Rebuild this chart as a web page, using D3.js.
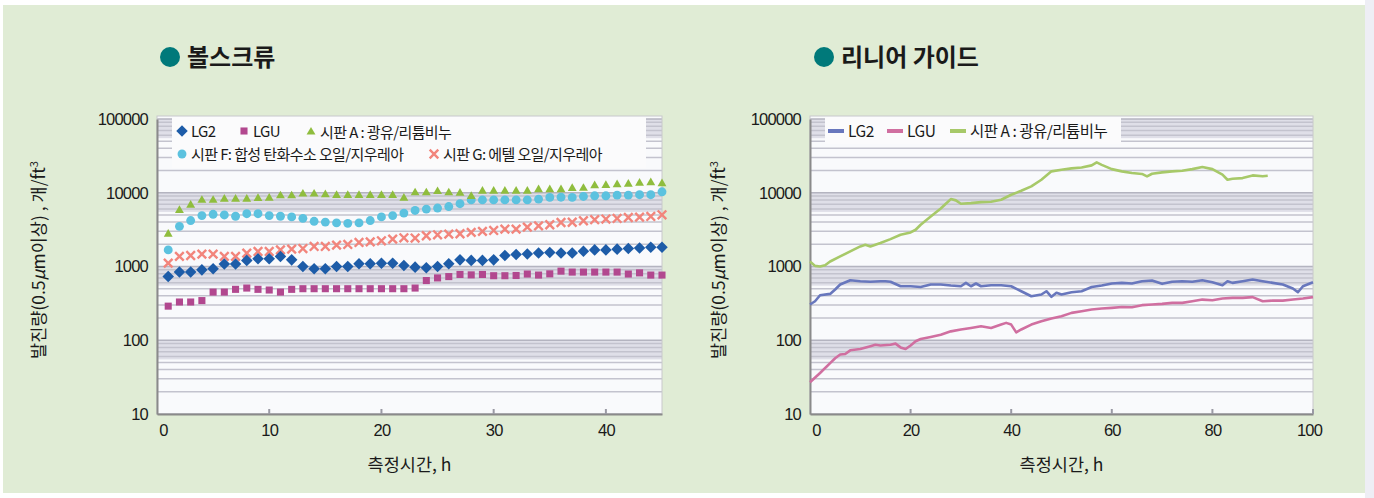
<!DOCTYPE html>
<html>
<head>
<meta charset="utf-8">
<script src="https://cdn.jsdelivr.net/npm/d3@7"></script>
<style>
  html, body { margin: 0; padding: 0; background: #ffffff; }
  svg { display: block; }
  text { font-family: "Liberation Sans", Arial, sans-serif; fill: #1a1a1a; }
  .kr { font-family: "Noto Sans CJK KR", "Noto Sans", sans-serif; }
</style>
</head>
<body>
<svg id="chart" width="1374" height="498"></svg>
<script>
// ---- Ball screw (볼스크류): hourly readings, log scale ----
const screwHours = [1,2,3,4,5,6,7,8,9,10,11,12,13,14,15,16,17,18,19,20,21,22,23,24,25,26,27,28,29,30,31,32,33,34,35,36,37,38,39,40,41,42,43,44,45];
const screwLG2 = [730,840,840,900,930,1080,1080,1210,1270,1270,1370,1230,1000,930,930,1000,1000,1090,1090,1110,1110,1030,980,960,1000,1090,1230,1210,1210,1230,1410,1450,1480,1520,1550,1520,1520,1610,1680,1680,1720,1750,1780,1820,1820];
const screwLGU = [290,330,330,345,450,450,490,510,490,480,450,490,500,500,500,500,500,500,500,500,500,500,510,645,700,730,780,770,780,750,750,755,790,765,795,865,840,840,840,840,840,790,820,765,765];
const screwA = [2750,5750,6800,7900,7900,8200,8200,8200,8400,8450,9100,9100,9600,9600,9400,9200,9200,9200,9200,9200,9200,8450,10000,10000,10400,10000,9900,8900,10500,10500,10500,10500,10500,11000,11000,11000,11450,11500,12450,12600,12850,13100,13500,13700,13250];
const screwF = [1680,3500,4200,4900,5100,5000,4800,5200,5200,4900,4800,4700,4500,4100,4000,3900,3850,3900,4200,4700,4900,5300,5750,6000,6200,6500,7100,8000,8000,8000,8000,8000,8000,8200,8650,8700,8650,8900,9100,9100,9300,9300,9400,9400,10300];
const screwG = [1110,1370,1410,1470,1470,1370,1370,1520,1600,1600,1680,1720,1750,1870,1870,1950,1990,2120,2160,2230,2350,2450,2430,2610,2690,2750,2780,2900,2990,3080,3210,3210,3420,3560,3680,3950,3980,4170,4310,4400,4480,4620,4670,4770,5020];

// ---- Linear guide (리니어 가이드): continuous traces ----
const guideHoursA = [0,1,2,3,4,6,8,10,11,12,14,16,18,20,21,22,24,26,27,28,29,30,32,34,36,38,40,42,44,46,48,50,52,54,56,57,58,60,62,64,66,67,68,70,72,74,76,78,80,82,83,84,86,88,90,91];
const guideA = [1170,1020,1000,1040,1170,1370,1600,1870,1970,1870,2080,2350,2690,2900,3150,3680,4770,6120,7100,8200,7880,7100,7240,7460,7540,8040,9400,10650,12200,15000,19500,20500,21400,22000,23500,25800,23900,20900,19500,18500,18000,16700,18100,18900,19500,19900,20900,22300,20900,17600,15000,15500,15800,17200,16700,17000];
const guideHoursLG2 = [0,1,2,4,5,6,8,10,12,14,15,16,18,20,22,24,26,28,30,31,32,33,34,36,38,40,42,44,46,47,48,49,50,52,54,56,58,60,62,64,66,68,70,72,74,76,78,80,82,83,84,86,88,90,92,94,96,97,98,100];
const guideLG2 = [305,338,408,425,488,570,652,632,620,632,632,620,540,540,527,570,570,552,540,600,540,588,540,558,558,540,462,395,417,462,388,440,417,448,462,527,552,588,600,588,632,645,582,620,632,620,652,613,558,632,600,632,666,632,600,570,503,448,540,613];
const guideHoursLGU = [0,2,4,5,6,7,8,10,12,13,14,16,17,18,19,20,21,22,24,26,28,30,32,34,36,38,39,40,41,42,44,46,48,50,52,54,56,58,60,62,64,66,68,70,72,74,76,78,80,82,84,86,88,90,92,94,96,98,100];
const guideLGU = [27,36,49,57,64,65,73,76,83,87,85,87,90,80,76,85,97,104,111,119,132,140,147,155,147,163,172,163,128,140,163,181,197,212,235,248,261,269,275,283,280,299,305,311,321,321,338,356,349,368,376,376,384,338,345,345,356,368,384];

const yTicks = [10, 100, 1000, 10000, 100000];
const screwXTicks = [0, 10, 20, 30, 40];
const guideXTicks = [0, 20, 40, 60, 80, 100];

const colors = {
  lg2: "#1d5ca8", lgu: "#b2488f", a: "#8fbd3e", f: "#5cc2df", g: "#f2857c",
  lineLG2: "#6877bd", lineLGU: "#d06fa0", lineA: "#a7c969"
};

const svg = d3.select("#chart");

// page background: pale green card with a light strip at the right edge
svg.append("rect").attr("x", 0).attr("y", 0).attr("width", 1374).attr("height", 498).attr("fill", "#ffffff");
svg.append("rect").attr("x", 3).attr("y", 5).attr("width", 1362).attr("height", 488).attr("fill", "#e0ecd5");
svg.append("rect").attr("x", 1365).attr("y", 0).attr("width", 9).attr("height", 498).attr("fill", "#eeeef5");

function drawPanel(opt) {
  const top = 116, bottom = 414;
  const x = d3.scaleLinear().domain(opt.xDomain).range([opt.left, opt.right]);
  const y = d3.scaleLog().domain([10, 100000]).range([bottom, 119]);
  const g = svg.append("g");

  // plot background
  g.append("rect").attr("x", opt.left).attr("y", top)
    .attr("width", opt.right - opt.left).attr("height", bottom - top)
    .attr("fill", "#f9fafc");

  // shaded upper part of each decade and minor grid lines
  const decades = [10, 100, 1000, 10000];
  decades.forEach(d => {
    g.append("rect").attr("x", opt.left).attr("width", opt.right - opt.left)
      .attr("y", y(10 * d)).attr("height", y(5.5 * d) - y(10 * d))
      .attr("fill", "#dfdfe8");
  });
  const minor = [];
  decades.forEach(d => { for (let k = 2; k <= 9; k++) minor.push(k * d); });
  g.selectAll(".minor").data(minor).enter().append("line")
    .attr("x1", opt.left).attr("x2", opt.right)
    .attr("y1", v => y(v)).attr("y2", v => y(v))
    .attr("stroke", "#c3c3ce").attr("stroke-width", 1.5);
  g.selectAll(".major").data(yTicks).enter().append("line")
    .attr("x1", opt.left).attr("x2", opt.right)
    .attr("y1", v => y(v)).attr("y2", v => y(v))
    .attr("stroke", "#b4b4c0").attr("stroke-width", 1.6);

  // frame
  g.append("rect").attr("x", opt.left).attr("y", top)
    .attr("width", opt.right - opt.left).attr("height", bottom - top)
    .attr("fill", "none").attr("stroke", "#c8c8cc").attr("stroke-width", 1);

  // legend box
  g.append("rect").attr("x", opt.legend.x).attr("y", top + 1)
    .attr("width", opt.legend.w).attr("height", opt.legend.h)
    .attr("fill", "#fbfbfc");

  // axes
  const yAxis = d3.axisLeft(y).tickValues(yTicks).tickFormat(d3.format("d")).tickSize(0).tickPadding(9);
  const ya = g.append("g").attr("transform", `translate(${opt.left},0)`).call(yAxis);
  ya.select(".domain").attr("stroke", "#8a8a8a").attr("stroke-width", 2);
  ya.selectAll("text").attr("font-size", 16.5).attr("fill", "#1a1a1a")
    .style("font-family", "'Liberation Sans', Arial, sans-serif").attr("letter-spacing", -0.8);

  const xAxis = d3.axisBottom(x).tickValues(opt.xTicks).tickSize(0).tickPadding(10);
  const xa = g.append("g").attr("transform", `translate(0,${bottom})`).call(xAxis);
  xa.select(".domain").attr("stroke", "#8a8a8a").attr("stroke-width", 2);
  xa.selectAll("text").attr("font-size", 16.5).attr("fill", "#1a1a1a")
    .style("font-family", "'Liberation Sans', Arial, sans-serif").attr("letter-spacing", -0.8)
    .attr("dx", (d, i) => i === 0 ? 6 : (d === opt.xDomain[1] ? -4 : 0));
  // small inner tick marks
  g.selectAll(".xtick").data(opt.xTicks.slice(1)).enter().append("line")
    .attr("x1", d => x(d)).attr("x2", d => x(d)).attr("y1", bottom).attr("y2", bottom - 5)
    .attr("stroke", "#9a9aa4").attr("stroke-width", 2);

  // panel title with bullet
  svg.append("circle").attr("cx", opt.titleX).attr("cy", 57).attr("r", 10).attr("fill", "#00797a");
  svg.append("text").attr("class", "kr").attr("x", opt.titleX + 17).attr("y", 66)
    .attr("font-size", 24).attr("font-weight", 700).attr("fill", "#111").text(opt.title);

  // axis titles
  svg.append("text").attr("class", "kr").attr("x", (opt.left + opt.right) / 2).attr("y", 471)
    .attr("text-anchor", "middle").attr("font-size", 17.5).text("측정시간, h");
  const yt = svg.append("text").attr("class", "kr")
    .attr("transform", `translate(${opt.yTitleX},260) rotate(-90)`)
    .attr("text-anchor", "middle").attr("font-size", 17.5);
  yt.append("tspan").text("발진량(0.5");
  yt.append("tspan").attr("font-style", "italic").text("μ");
  yt.append("tspan").text("m이상) , 개/ft");
  yt.append("tspan").attr("font-size", 11).attr("dy", -7).text("3");

  return { g, x, y };
}

// ===== left panel: ball screw =====
const L = drawPanel({
  left: 157, right: 662, xDomain: [0, 45], xTicks: screwXTicks,
  title: "볼스크류", titleX: 170, yTitleX: 45,
  legend: { x: 172, w: 474, h: 51 }
});

const diamond = d3.symbol().type(d3.symbolDiamond2).size(85);
const square = d3.symbol().type(d3.symbolSquare).size(50);
const triangle = d3.symbol().type(d3.symbolTriangle).size(34);
const circle = d3.symbol().type(d3.symbolCircle).size(62);
const cross = d3.symbol().type(d3.symbolX).size(50);

function markers(values, sym, color, isCross) {
  L.g.append("g").selectAll("path").data(values).enter().append("path")
    .attr("d", sym)
    .attr("transform", (v, i) => `translate(${L.x(screwHours[i])},${L.y(v)})`)
    .attr("fill", isCross ? "none" : color)
    .attr("stroke", isCross ? color : "none").attr("stroke-width", isCross ? 2.4 : 0);
}
markers(screwLGU, square, colors.lgu);
markers(screwG, cross, colors.g, true);
markers(screwF, circle, colors.f);
markers(screwA, triangle, colors.a);
markers(screwLG2, diamond, colors.lg2);

// legend entries
const legL = [
  { sym: diamond, color: colors.lg2, x: 182, y: 131, label: "LG2" },
  { sym: square, color: colors.lgu, x: 244, y: 131, label: "LGU" },
  { sym: triangle, color: colors.a, x: 311, y: 132, label: "시판 A : 광유/리튬비누" },
  { sym: circle, color: colors.f, x: 182, y: 154, label: "시판 F: 합성 탄화수소 오일/지우레아" },
  { sym: cross, color: colors.g, x: 434, y: 154, label: "시판 G: 에텔 오일/지우레아", cross: true }
];
legL.forEach(d => {
  L.g.append("path").attr("d", d.sym).attr("transform", `translate(${d.x},${d.y})`)
    .attr("fill", d.cross ? "none" : d.color).attr("stroke", d.cross ? d.color : "none")
    .attr("stroke-width", d.cross ? 2.4 : 0);
  L.g.append("text").attr("class", "kr").attr("x", d.x + 9).attr("y", d.y + 5.5)
    .attr("font-size", 15).attr("letter-spacing", -0.6).text(d.label);
});

// ===== right panel: linear guide =====
const R = drawPanel({
  left: 810, right: 1313, xDomain: [0, 100], xTicks: guideXTicks,
  title: "리니어 가이드", titleX: 824, yTitleX: 725,
  legend: { x: 825, w: 296, h: 27 }
});

function trace(hours, values, color) {
  const line = d3.line().x((v, i) => R.x(hours[i])).y(v => R.y(v)).curve(d3.curveLinear);
  R.g.append("path").datum(values).attr("d", line)
    .attr("fill", "none").attr("stroke", color).attr("stroke-width", 2.6)
    .attr("stroke-linejoin", "round");
}
trace(guideHoursLGU, guideLGU, colors.lineLGU);
trace(guideHoursLG2, guideLG2, colors.lineLG2);
trace(guideHoursA, guideA, colors.lineA);

const legR = [
  { color: colors.lineLG2, x: 828, label: "LG2" },
  { color: colors.lineLGU, x: 887, label: "LGU" },
  { color: colors.lineA, x: 950, label: "시판 A : 광유/리튬비누" }
];
legR.forEach(d => {
  R.g.append("line").attr("x1", d.x).attr("x2", d.x + 16).attr("y1", 131).attr("y2", 131)
    .attr("stroke", d.color).attr("stroke-width", 4);
  R.g.append("text").attr("class", "kr").attr("x", d.x + 20).attr("y", 136.5)
    .attr("font-size", 15.5).attr("letter-spacing", -0.5).text(d.label);
});
</script>
</body>
</html>
